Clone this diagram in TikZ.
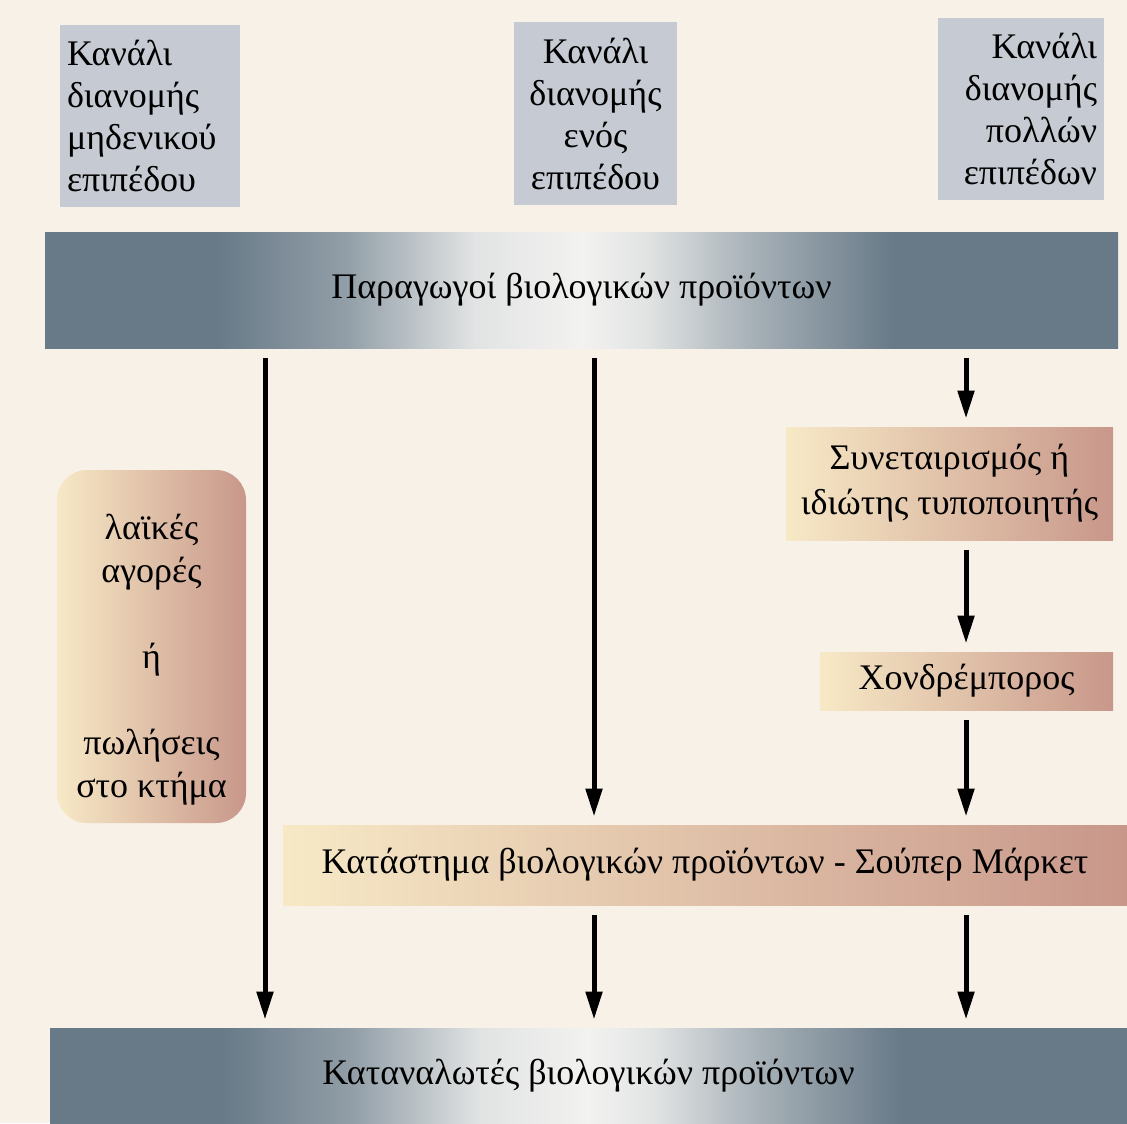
\documentclass[tikz,border=0pt]{standalone}
\usepackage{fontspec}
\setmainfont{Liberation Serif}
\usetikzlibrary{arrows.meta}
\definecolor{paper}{HTML}{F8F1E8}
\definecolor{chan}{HTML}{C6CBD3}
\definecolor{slate}{HTML}{687A88}
\definecolor{mist}{HTML}{F2F2F0}
\definecolor{cream}{HTML}{F7E9C6}
\definecolor{rose}{HTML}{C8978A}
\pgfdeclarehorizontalshading{bannershade}{100bp}{color(0bp)=(slate); color(25bp)=(slate); color(33bp)=(slate); color(39bp)=(slate!70!mist); color(45bp)=(mist!88!slate); color(50bp)=(mist); color(53bp)=(mist!88!slate); color(58bp)=(slate!55!mist); color(64.5bp)=(slate); color(75bp)=(slate); color(100bp)=(slate)}
\tikzset{
  chanbox/.style={fill=chan, inner sep=3.5pt, minimum height=91pt, font=\fontsize{18}{21}\selectfont},
  banner/.style={shading=bannershade, inner sep=0pt, font=\fontsize{18}{21}\selectfont},
  agent/.style={left color=cream, right color=rose, inner sep=0pt, align=center, font=\fontsize{18}{22.5}\selectfont},
  flow/.style={-{Triangle[length=14pt,width=8pt]}, line width=2.5pt, shorten <=5pt, shorten >=4pt},
}
\begin{document}
\begin{tikzpicture}[x=0.5pt, y=-0.5pt]
  \fill[paper] (0,0) rectangle (1127,1123);
  \useasboundingbox (0,0) rectangle (1127,1123);
  % channel headings
  \node (chan0) [chanbox, text width=83pt, align=left] at (150,116) {Κανάλι\\διανομής\\μηδενικού\\επιπέδου};
  \node (chan1) [chanbox, text width=74.5pt, align=center] at (595.5,113.5) {Κανάλι\\διανομής\\ενός\\επιπέδου};
  \node (chan2) [chanbox, text width=76pt, align=right] at (1021,109) {Κανάλι\\διανομής\\πολλών\\επιπέδων};
  % producers and consumers
  \node (prod) [banner, minimum width=536.5pt, minimum height=58pt] at (581.5,290) {Παραγωγοί βιολογικών προϊόντων};
  \node (cons) [banner, minimum width=538.5pt, minimum height=47.5pt] at (588.5,1075.5) {Καταναλωτές βιολογικών προϊόντων};
  % intermediaries
  \node (fair) [agent, rounded corners=15pt, minimum width=94.5pt, minimum height=176.5pt, font=\fontsize{18}{21.5}\selectfont] at (151.5,646.5) {\rule{0pt}{26pt}λαϊκές\\αγορές\\[21.5pt]ή\\[21.5pt]πωλήσεις\\στο κτήμα};
  \node (coop) [agent, minimum width=163.5pt, minimum height=56.5pt] at (949.5,483.5) {Συνεταιρισμός ή\\ιδιώτης τυποποιητής};
  \node (whole) [agent, minimum width=146.5pt, minimum height=29pt] at (966.5,681) {Χονδρέμπορος};
  \node (store) [agent, minimum width=422pt, minimum height=40pt] at (705,865) {Κατάστημα βιολογικών προϊόντων - Σούπερ Μάρκετ};
  \coordinate (colA) at (265,0);
  \coordinate (colB) at (594,0);
  \coordinate (colC) at (966,0);
  \draw[flow] (prod.south -| colA) -- (cons.north -| colA);
  \draw[flow] (prod.south -| colB) -- (store.north -| colB);
  \draw[flow] (store.south -| colB) -- (cons.north -| colB);
  \draw[flow] (prod.south -| colC) -- (coop.north -| colC);
  \draw[flow] (coop.south -| colC) -- (whole.north -| colC);
  \draw[flow] (whole.south -| colC) -- (store.north -| colC);
  \draw[flow] (store.south -| colC) -- (cons.north -| colC);
\end{tikzpicture}
\end{document}
